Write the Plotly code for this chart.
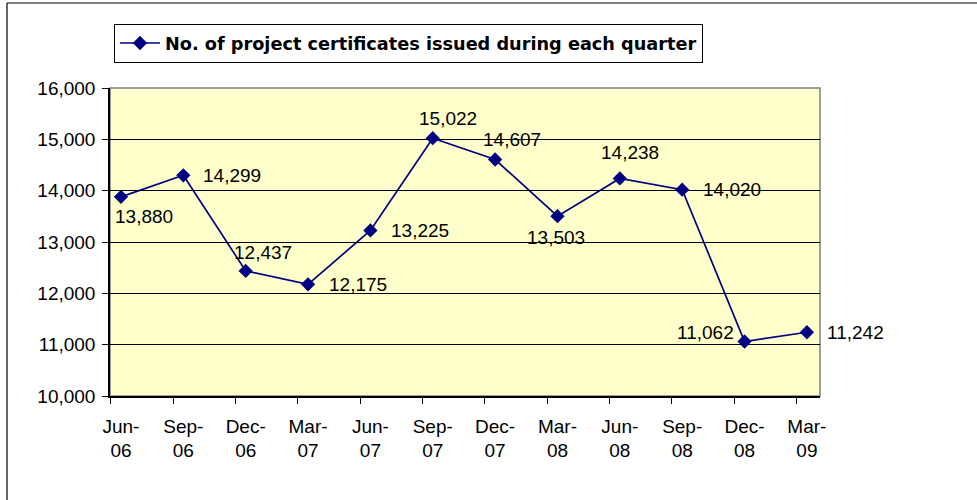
import plotly.graph_objects as go

quarters = ["Jun-<br>06", "Sep-<br>06", "Dec-<br>06", "Mar-<br>07", "Jun-<br>07", "Sep-<br>07",
            "Dec-<br>07", "Mar-<br>08", "Jun-<br>08", "Sep-<br>08", "Dec-<br>08", "Mar-<br>09"]
certificates = [13880, 14299, 12437, 12175, 13225, 15022, 14607, 13503, 14238, 14020, 11062, 11242]
y_ticks = [10000, 11000, 12000, 13000, 14000, 15000, 16000]

# label placement (style only): (xanchor, xshift, yshift)
label_pos = [("center", 23, -20), ("left", 18, 0), ("center", 17, 18), ("left", 19, 0),
             ("left", 19, 0), ("center", 15, 20), ("center", 17, 20), ("center", -1, -21),
             ("center", 10, 26), ("left", 19, 0), ("right", -9, 9), ("left", 18, 0)]

FONT = "Liberation Sans, Arial, sans-serif"
LEGEND_FONT = "DejaVu Sans, Verdana, sans-serif"
NAVY = "#000080"
FS = 19
xs = list(range(len(certificates)))

fig = go.Figure()
fig.add_trace(go.Scatter(
    x=xs, y=certificates, mode="lines+markers",
    name="No. of project certificates issued during each quarter",
    line=dict(color=NAVY, width=1.7),
    marker=dict(symbol="diamond", size=11, color=NAVY),
    hoverinfo="skip",
))

for i, v in enumerate(certificates):
    xa, dx, dy = label_pos[i]
    fig.add_annotation(x=i, y=v, xref="x", yref="y", text=f"{v:,}", showarrow=False,
                       xanchor=xa, yanchor="middle", xshift=dx, yshift=dy,
                       font=dict(family=FONT, size=FS, color="black"))

L, R, T, B = 110, 820, 88, 396
W, H = 977, 500

def px_x(p):
    return (p - L) / (R - L)

def px_y(p):
    return (B - p) / (B - T)

# outer chart border (left and top visible)
fig.add_shape(type="line", xref="paper", yref="paper", x0=px_x(7), x1=px_x(7), y0=px_y(3), y1=px_y(600),
              line=dict(color="black", width=1.2))
fig.add_shape(type="line", xref="paper", yref="paper", x0=px_x(7), x1=px_x(1200), y0=px_y(3), y1=px_y(3),
              line=dict(color="black", width=1.2))
# plot area border (grey, top & right)
fig.add_shape(type="rect", xref="paper", yref="paper", x0=0, x1=1, y0=0, y1=1,
              line=dict(color="#808080", width=1.5), layer="below")

fig.update_layout(
    width=W, height=H,
    margin=dict(l=L, r=W - R, t=T, b=H - B, pad=0),
    paper_bgcolor="white", plot_bgcolor="#FFFFCC",
    font=dict(family=FONT, size=FS, color="black"),
    showlegend=True,
    legend=dict(x=px_x(114), y=px_y(24), xanchor="left", yanchor="top",
                bordercolor="black", borderwidth=1, bgcolor="white",
                font=dict(family=LEGEND_FONT, size=17.7, color="black", weight="bold"),
                itemwidth=40),
    xaxis=dict(
        range=[-0.176, 11.21], tickmode="array", tickvals=xs, ticktext=quarters,
        ticks="", showgrid=False, zeroline=False, showline=True, linecolor="black", linewidth=1.5,
        tickfont=dict(family=FONT, size=FS), ticklabelstandoff=12,
        minor=dict(ticks="outside", ticklen=6, tickcolor="black", tick0=-0.165, dtick=1, showgrid=False),
    ),
    yaxis=dict(
        range=[10000, 16000], tickmode="array", tickvals=y_ticks,
        ticktext=[f"{t:,}" for t in y_ticks],
        ticks="outside", ticklen=6, tickcolor="black",
        showgrid=True, gridcolor="#000000", gridwidth=1, zeroline=False,
        showline=True, linecolor="black", linewidth=1.5,
        tickfont=dict(family=FONT, size=FS), ticklabelstandoff=3,
    ),
)

fig.write_html("out.html", config={"displayModeBar": False},
               post_script="document.body.style.margin='0';")
